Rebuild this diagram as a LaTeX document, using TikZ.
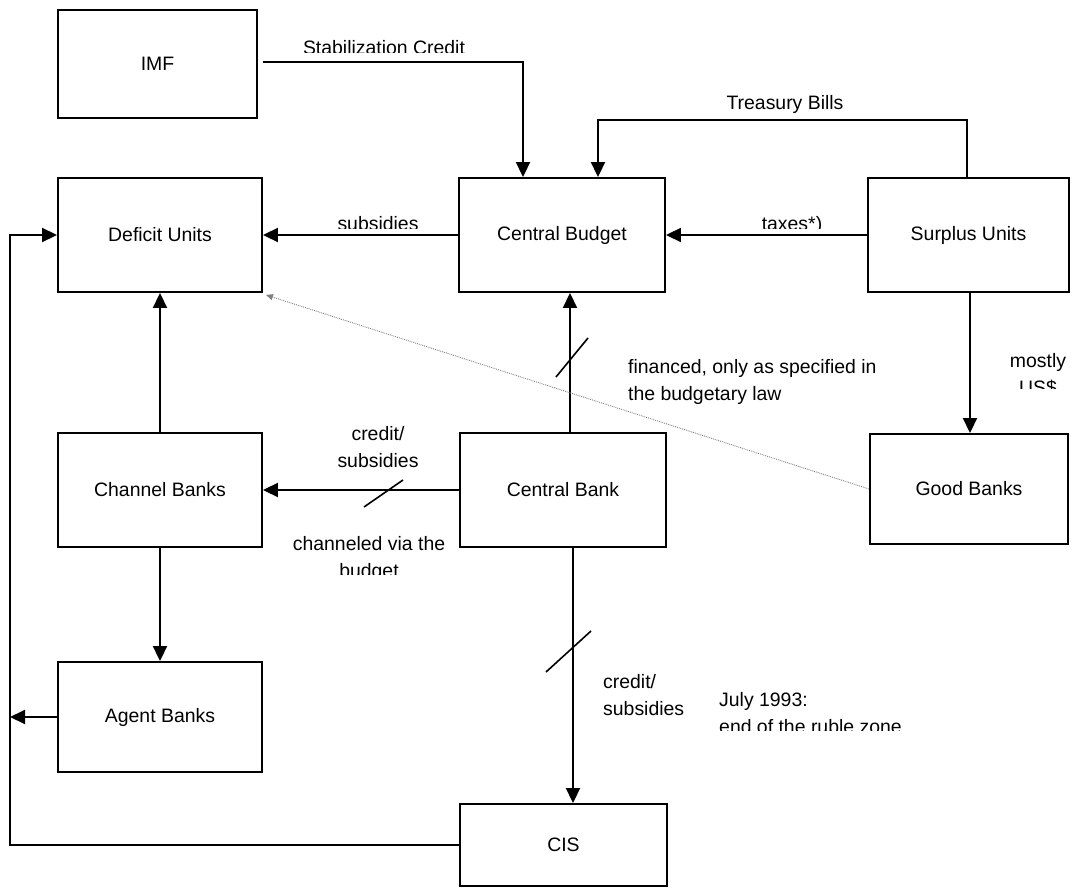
\documentclass[tikz,border=0pt]{standalone}
\usepackage{fontspec}
\setmainfont{Liberation Sans}
\usetikzlibrary{arrows.meta,calc}
\begin{document}
\begin{tikzpicture}[x=1bp,y=-1bp,
  txt/.style={font=\fontsize{19.5}{27}\selectfont},
  box/.style={draw,line width=1.9bp,inner sep=0pt,txt},
  conn/.style={line width=1.9bp},
  arr/.style={conn,-{Triangle[length=15bp,width=14bp]}},
  lbl/.style={txt,inner sep=0pt},
  slash/.style={line width=1.6bp},
  dotline/.style={line width=0.9bp,gray,densely dotted,-{Triangle[length=7bp,width=6bp]}}
]
\useasboundingbox (0,0) rectangle (1073,888);

% boxes
\node[box,minimum width=199bp,minimum height=108bp] (imf) at (157.5,64) {IMF};
\node[box,minimum width=204bp,minimum height=114bp] (deficit) at (160,235) {Deficit Units};
\node[box,minimum width=206bp,minimum height=114bp] (budget) at (562,235) {Central Budget};
\node[box,minimum width=201bp,minimum height=114bp] (surplus) at (968.5,235) {Surplus Units};
\node[box,minimum width=204bp,minimum height=114bp] (channel) at (160,490) {Channel Banks};
\node[box,minimum width=206bp,minimum height=114bp] (cbank) at (563,490) {Central Bank};
\node[box,minimum width=198bp,minimum height=110bp] (good) at (969,489) {Good Banks};
\node[box,minimum width=204bp,minimum height=110bp] (agent) at (160,717) {Agent Banks};
\node[box,minimum width=207bp,minimum height=82bp] (cis) at (563.5,845) {CIS};

% helper coordinates
\coordinate (stabR) at (523,62);
\coordinate (tbR) at (967,120);
\coordinate (tbL) at (598,120);
\coordinate (lt) at (10,235);

% connectors
\draw[arr] ($(imf.east)+(5,-2)$) -- (stabR) -- (stabR |- budget.north);
\draw[arr] (tbR |- surplus.north) -- (tbR) -- (tbL) -- (tbL |- budget.north);
\draw[arr] (budget.west) -- (deficit.east);
\draw[arr] (surplus.west) -- (budget.east);
\draw[arr] ([xshift=7bp]cbank.north) -- ([xshift=8bp]budget.south);
\draw[arr] (cbank.west) -- (channel.east);
\draw[arr] (channel.north) -- (deficit.south);
\draw[arr] (channel.south) -- (agent.north);
\draw[arr] ([xshift=1.5bp]surplus.south) -- ([xshift=1bp]good.north);
\draw[arr] ([xshift=10bp]cbank.south) -- ([xshift=9.5bp]cis.north);
\draw[arr] (cis.west) -- (cis.west -| lt) -- (lt) -- (deficit.west);
\draw[arr] (agent.west) -- (agent.west -| lt);
\draw[dotline] (good.west) -- ([xshift=3bp,yshift=-2bp]deficit.south east);

% slashes
\draw[slash] (556,377) -- (588,338);
\draw[slash] (364,507) -- (403,480);
\draw[slash] (546,672) -- (591,631);

% labels
\begin{scope}
  \clip (250,0) rectangle (520,52);
  \node[lbl,anchor=base] (lstab) at (384,54) {Stabilization Credit};
\end{scope}
\node[lbl,anchor=base] (ltb) at (785,109) {Treasury Bills};
\begin{scope}
  \clip (300,190) rectangle (850,228);
  \node[lbl,anchor=base] (lsub) at (378,230) {subsidies};
  \node[lbl,anchor=base] (ltax) at (792,230) {taxes*)};
\end{scope}
\node[lbl,anchor=base west,align=left] (lfin) at (628,400) {financed, only as specified in\\the budgetary law};
\begin{scope}
  \clip (990,330) rectangle (1073,388);
  \node[lbl,anchor=base,align=center] (lus) at (1038,394) {mostly\\US\$};
\end{scope}
\node[lbl,anchor=base,align=center] (lcs1) at (378,467) {credit/\\subsidies};
\begin{scope}
  \clip (280,520) rectangle (460,574);
  \node[lbl,anchor=base,align=center] (lchan) at (369,577) {channeled via the\\budget};
\end{scope}
\node[lbl,anchor=base west,align=left] (lcs2) at (603,715) {credit/\\subsidies};
\begin{scope}
  \clip (700,670) rectangle (960,730);
  \node[lbl,anchor=base west,align=left] (ljuly) at (719,733) {July 1993:\\end of the ruble zone};
\end{scope}
\end{tikzpicture}
\end{document}
